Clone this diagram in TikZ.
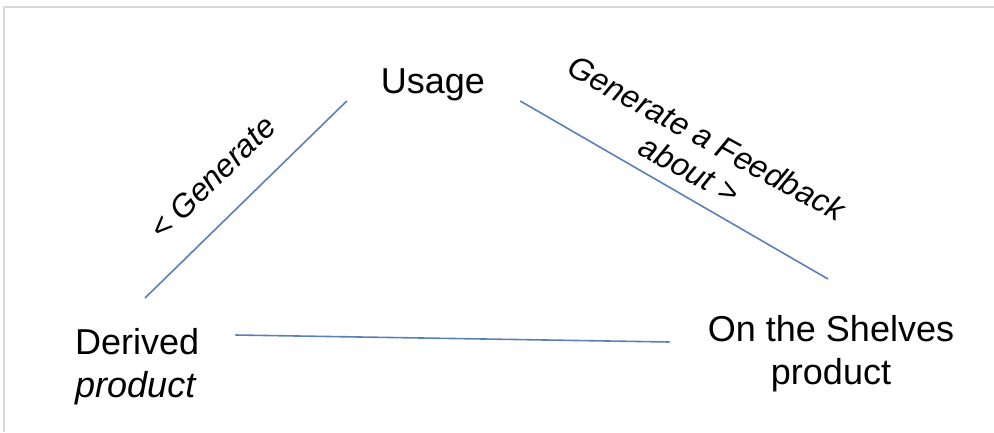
\documentclass[tikz,border=0pt]{standalone}
\usepackage{fontspec}
\setmainfont{Liberation Sans}
\usetikzlibrary{calc}
\definecolor{linkblue}{HTML}{5B80B6}
\definecolor{framegray}{HTML}{DADADA}

\begin{document}
\begin{tikzpicture}[x=1pt, y=-1pt,
        main/.style={inner sep=0pt, font=\fontsize{36}{43}\selectfont},
        lbl/.style={inner sep=0pt, sloped, font=\fontsize{32}{36}\selectfont\itshape},
        link/.style={draw=linkblue, line width=1.6pt}]
        \useasboundingbox (0,0) rectangle (994,432);
        % frame, only top and left
        \draw[framegray, line width=1.6pt] (4,432) -- (4,7) -- (994,7);
        % the three stages
        \node[main, anchor=base] (usage) at (433,93) {Usage};
        \node[main, align=left, anchor=north west] (derived) at (75,328) {Derived\\\textit{product}};
        \node[main, align=center, anchor=north] (shelves) at (831,315) {On the Shelves\\product};
        % connect them
        \draw[link] ($(derived.north west)+(70,-30)$) -- ($(usage.base west)+(-34,8)$)
            node[lbl, pos=0.47, above=27pt] {< Generate};
        \draw[link] ($(usage.base east)+(35,8)$) -- ($(shelves.north)+(-3,-36)$)
            node[lbl, pos=0.51, above=13pt, align=center, rotate=1.5] {Generate a Feedback\\about >};
        \draw[link] ($(derived.north east)+(36,7)$) -- ($(shelves.north west)+(-38,27)$);
    \end{tikzpicture}
\end{document}
